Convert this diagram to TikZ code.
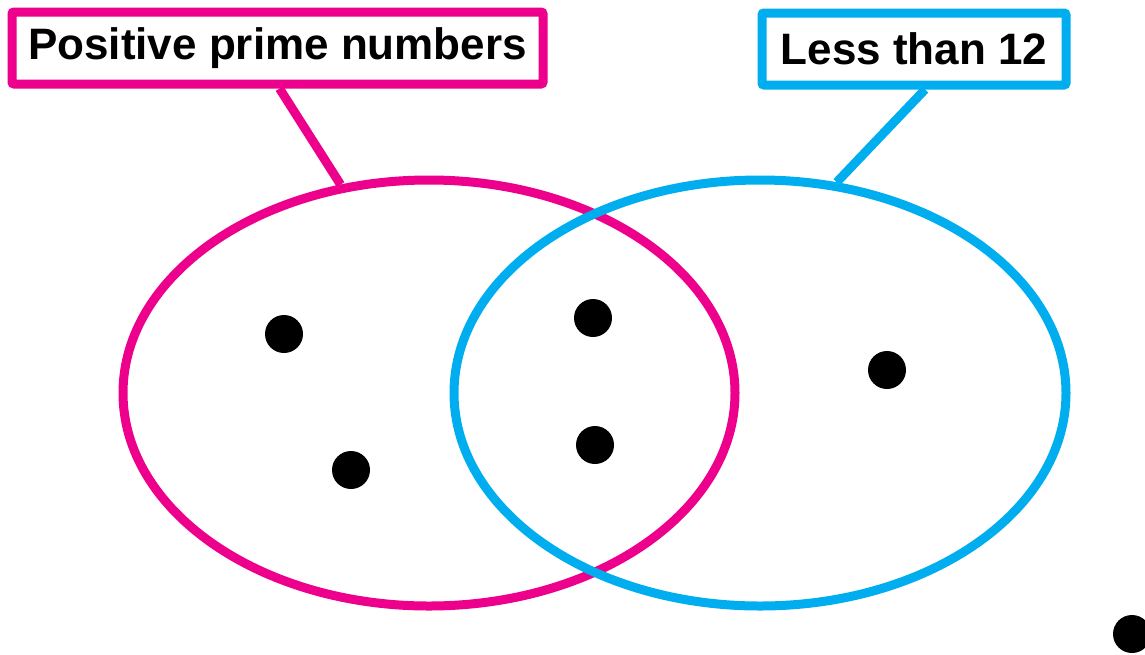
\documentclass[tikz,border=0pt]{standalone}
\usepackage{fontspec}
\setmainfont{Liberation Sans}
\usetikzlibrary{shapes.geometric,calc}
\definecolor{pinkc}{HTML}{EC008C}
\definecolor{bluec}{HTML}{00AEEF}
\tikzset{
  labelbox/.style={draw=#1, line width=9pt, rounded corners=2pt, fill=white, inner sep=0pt,
    minimum height=72pt, font=\fontsize{44}{50}\selectfont\bfseries, text=black},
  setellipse/.style={draw=#1, line width=9pt, ellipse, inner sep=0pt,
    minimum width=612pt, minimum height=426pt},
  connector/.style={draw=#1, line width=9pt},
  dot/.style={circle, fill=black, inner sep=0pt, minimum size=38pt}
}
\begin{document}
\begin{tikzpicture}[x=1pt,y=-1pt]
\useasboundingbox (0,0) rectangle (1145,654);
\node[setellipse=pinkc] (pinkset) at (429,393) {};
\node[setellipse=bluec] (blueset) at (760,393) {};
\node[labelbox=pinkc, minimum width=531pt] (pinklab) at (277.5,48) {Positive prime numbers};
\node[labelbox=bluec, minimum width=304pt] (bluelab) at (914,49) {Less than 12};
\draw[connector=pinkc] ($(pinklab.south)+(2,0)$) -- (pinkset.113);
\draw[connector=bluec] ($(bluelab.south)+(11,0)$) -- (blueset.70);
\node[dot] (d1) at (284,334) {};
\node[dot] (d2) at (351,470) {};
\node[dot] (d3) at (593,318) {};
\node[dot] (d4) at (595,445) {};
\node[dot] (d5) at (887,370) {};
\node[dot] (d6) at (1132,634) {};
\end{tikzpicture}
\end{document}
